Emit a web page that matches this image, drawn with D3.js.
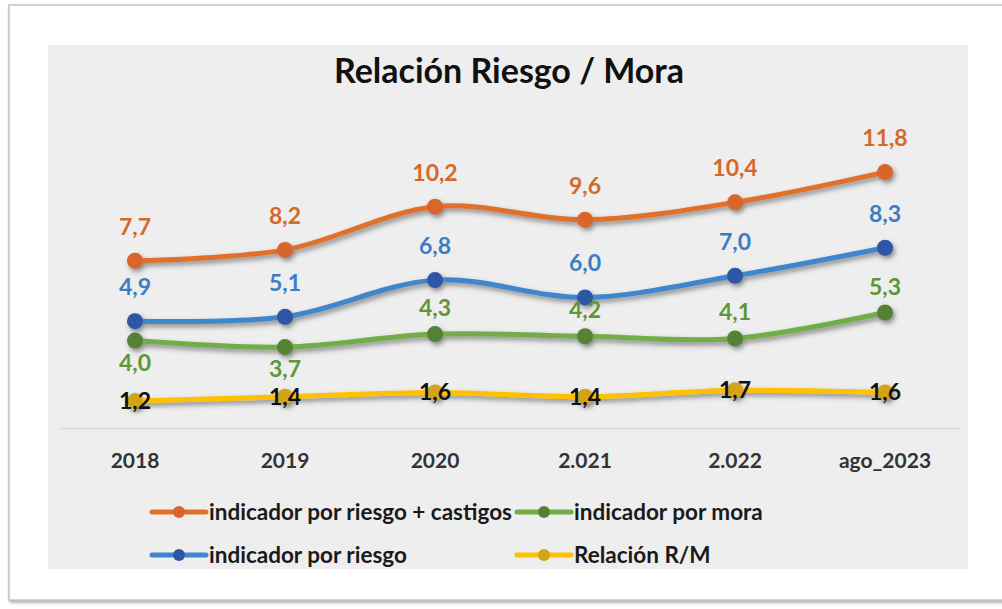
<!DOCTYPE html>
<html><head><meta charset="utf-8">
<script src="https://cdn.jsdelivr.net/npm/d3@7"></script>
<style>
html,body{margin:0;padding:0;background:#fff;overflow:hidden;}
svg{display:block;overflow:hidden;}
text{font-family:Lato,"Open Sans",sans-serif;font-weight:700;}
</style></head>
<body>
<svg id="c" width="1002" height="609"></svg>
<script>
const categories = ["2018","2019","2020","2.021","2.022","ago_2023"];
const riesgoCastigos = [7.7, 8.2, 10.2, 9.6, 10.4, 11.8];
const riesgo = [4.9, 5.1, 6.8, 6.0, 7.0, 8.3];
const mora = [4.0, 3.7, 4.3, 4.2, 4.1, 5.3];
const relacionRM = [1.2, 1.4, 1.6, 1.4, 1.7, 1.6];
const moraLabelSide = ["below","below","above","above","above","above"];
const title = "Relación Riesgo / Mora";

const series = [
  {name:"indicador por riesgo + castigos", values:riesgoCastigos, line:"#E0702A", marker:"#D9652A", text:"#D5682B", side:()=>"above", dy:-26},
  {name:"indicador por riesgo", values:riesgo, line:"#3F86CC", marker:"#2F56A6", text:"#3B7DC4", side:()=>"above", dy:-26},
  {name:"indicador por mora", values:mora, line:"#71AE48", marker:"#548235", text:"#5E9638", side:i=>moraLabelSide[i], dy:-18},
  {name:"Relación R/M", values:relacionRM, line:"#FFC000", marker:"#D4A416", text:"#111", side:()=>"center", dy:0}
];

const svg = d3.select("#c");
const defs = svg.append("defs");
const f = defs.append("filter").attr("id","sh").attr("x","-10%").attr("y","-30%").attr("width","130%").attr("height","180%");
f.append("feDropShadow").attr("dx",2).attr("dy",3).attr("stdDeviation",2.4).attr("flood-color","#444").attr("flood-opacity",0.6);
const fb = defs.append("filter").attr("id","fsh").attr("x","-5%").attr("y","-5%").attr("width","110%").attr("height","110%");
fb.append("feDropShadow").attr("dx",1).attr("dy",2).attr("stdDeviation",1.5).attr("flood-color","#777").attr("flood-opacity",0.6);

// outer frame
svg.append("rect").attr("x",9).attr("y",5).attr("width",1030).attr("height",595)
  .attr("fill","#fff").attr("stroke","#c4c4c4").attr("stroke-width",1.5).attr("filter","url(#fsh)");
// inner panel
svg.append("rect").attr("x",48).attr("y",45).attr("width",920).attr("height",524).attr("fill","#eeeeee");

svg.append("text").attr("x",509).attr("y",83).attr("text-anchor","middle")
  .attr("font-size",34).attr("fill","#111").text(title);

const x = d3.scaleBand().domain(categories).range([60,960]);
const y = d3.scaleLinear().domain([0,12]).range([427,427-12*21.6]);

// x axis
const xa = svg.append("g").attr("transform","translate(0,428)").call(d3.axisBottom(x).tickSize(0).tickPadding(25));
xa.select(".domain").attr("stroke","#d6d6d6").attr("stroke-width",1.5);
xa.selectAll("text").attr("font-size",21).attr("fill","#333").attr("font-family","Lato,sans-serif").attr("font-weight",700);

const line = d3.line().x((d,i)=>x(categories[i])+x.bandwidth()/2).y(d=>y(d)).curve(d3.curveCatmullRom.alpha(0));

const drawOrder = [series[3], series[2], series[1], series[0]];
drawOrder.forEach(s=>{
  const g = svg.append("g").attr("filter","url(#sh)");
  g.append("path").attr("d",line(s.values)).attr("fill","none").attr("stroke",s.line).attr("stroke-width",5).attr("stroke-linecap","round");
  g.selectAll("circle").data(s.values).join("circle")
    .attr("cx",(d,i)=>x(categories[i])+x.bandwidth()/2).attr("cy",d=>y(d)).attr("r",8).attr("fill",s.marker);
});
drawOrder.forEach(s=>{
  svg.append("g").selectAll("text").data(s.values).join("text")
    .attr("x",(d,i)=>x(categories[i])+x.bandwidth()/2)
    .attr("y",(d,i)=>{const side=s.side(i); if(side==="below") return y(d)+30; if(side==="center") return y(d)+8; return y(d)+s.dy;})
    .attr("text-anchor","middle").attr("font-size",23).attr("fill",s.text)
    .text(d=>d.toFixed(1).replace(".",","));
});

// legend
const legendItems = [
  {s:series[0], lx:150, ly:512},
  {s:series[2], lx:515, ly:512},
  {s:series[1], lx:150, ly:555},
  {s:series[3], lx:515, ly:555}
];
legendItems.forEach(it=>{
  const g = svg.append("g").attr("transform",`translate(${it.lx},${it.ly})`);
  g.append("line").attr("x1",2).attr("x2",56).attr("y1",0).attr("y2",0).attr("stroke",it.s.line).attr("stroke-width",5).attr("stroke-linecap","round");
  g.append("circle").attr("cx",29).attr("cy",0).attr("r",6).attr("fill",it.s.marker);
  g.append("text").attr("x",59).attr("y",8).attr("font-size",22.5).attr("fill","#1a1a1a").text(it.s.name);
});
</script>
</body></html>
